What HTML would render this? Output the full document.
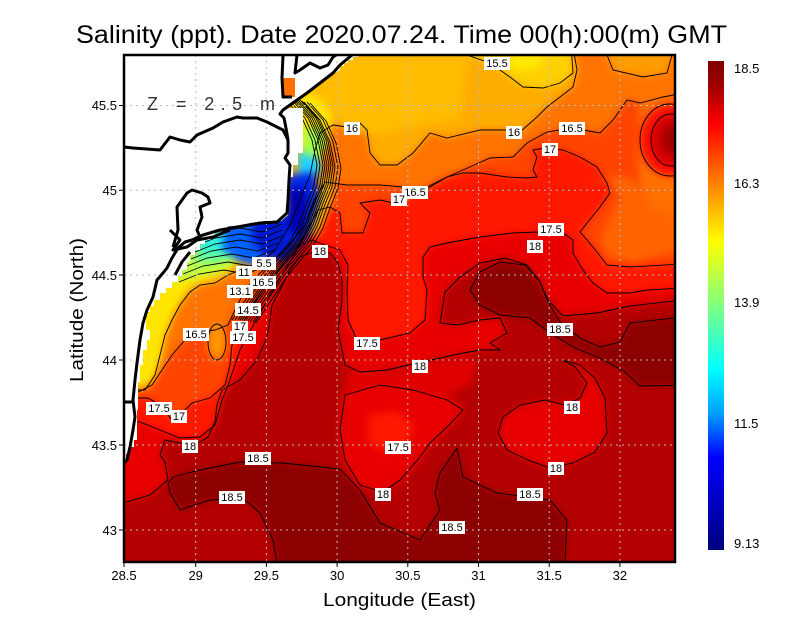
<!DOCTYPE html>
<html><head><meta charset="utf-8"><style>
html,body{margin:0;padding:0;background:#fff;width:800px;height:618px;overflow:hidden}
svg{display:block}
text{font-family:"Liberation Sans",sans-serif}
</style></head><body>
<svg width="800" height="618" viewBox="0 0 800 618" xmlns="http://www.w3.org/2000/svg">
<defs>
<clipPath id="plot"><rect x="124" y="55" width="551" height="507"/></clipPath>
<filter id="bl" filterUnits="userSpaceOnUse" x="0" y="0" width="800" height="618" color-interpolation-filters="sRGB"><feGaussianBlur stdDeviation="4"/></filter>
<linearGradient id="cb" x1="0" y1="0" x2="0" y2="1">
<stop offset="0" stop-color="#800000"/><stop offset="0.05" stop-color="#a00000"/><stop offset="0.13" stop-color="#ff0000"/><stop offset="0.25" stop-color="#ff8000"/><stop offset="0.37" stop-color="#ffff00"/><stop offset="0.5" stop-color="#80ff80"/><stop offset="0.63" stop-color="#00ffff"/><stop offset="0.72" stop-color="#00a0ff"/><stop offset="0.81" stop-color="#0000ff"/><stop offset="1" stop-color="#000080"/>
</linearGradient>
<path id="d1" d="M283,463 L340,469 L360,490 L380,523 L420,540 L440,510 L435,493 L440,473 L457,448 L463,477 L497,493 L550,500 L567,520 L563,600 L283,600 L273,540 L260,513 L243,498 L210,500 L180,510 L170,493 L168,483 L173,477 L200,470 L240,462 Z"/>
<path id="d23" d="M470,290 L480,272 L500,262 L525,265 L540,282 L547,300 L560,322 L580,338 L600,347 L620,342 L630,323 L700,315 L700,385 L640,386 L625,372 L600,358 L575,348 L550,333 L530,318 L500,315 L480,305 Z"/>
<path id="r18" d="M100,30 H700 V298 L630,306 L597,313 L563,316 L548,300 L540,282 L527,265 L505,258 L480,263 L460,277 L445,292 L440,323 L457,325 L480,320 L500,318 L507,333 L490,343 L500,350 L480,350 L463,353 L417,363 L387,370 L360,372 L345,365 L338,330 L342,300 L342,280 L338,263 L330,253 L313,252 L300,257 L290,270 L280,290 L272,305 L270,320 L267,337 L257,360 L240,380 L222,390 L217,405 L215,422 L208,437 L195,445 L180,443 L165,440 L160,455 L165,462 L168,480 L150,495 L100,510 Z"/>
<path id="r18b" d="M345,395 L380,385 L413,390 L447,400 L463,410 L447,427 L430,443 L420,457 L400,480 L383,492 L360,485 L345,460 L340,430 Z"/>
<path id="r18c" d="M498,433 L503,417 L520,405 L545,400 L565,405 L580,398 L587,383 L575,367 L562,360 L580,365 L595,378 L605,398 L607,433 L595,452 L573,463 L550,468 L528,460 L507,450 Z"/>
<path id="r175" d="M100,30 H700 V287 L647,290 L630,293 L607,293 L593,283 L583,270 L573,253 L573,240 L563,233 L537,232 L513,233 L480,237 L447,243 L430,247 L423,257 L423,277 L427,290 L425,320 L410,333 L380,340 L357,340 L348,320 L347,290 L348,265 L340,250 L325,245 L312,240 L300,245 L290,262 L280,278 L270,295 L262,310 L255,322 L248,335 L240,350 L235,365 L228,385 L222,400 L215,425 L200,437 L180,438 L160,430 L140,422 L100,420 Z"/>
<path id="r17" d="M100,30 H700 V263 L630,267 L607,265 L597,252 L587,240 L580,232 L587,223 L600,207 L610,193 L607,183 L597,167 L580,157 L563,150 L545,148 L533,150 L537,157 L533,170 L537,177 L527,178 L507,177 L480,173 L463,173 L447,177 L430,187 L413,197 L393,203 L380,200 L360,203 L370,213 L363,233 L342,233 L340,213 L330,207 L318,210 L305,235 L295,250 L285,262 L275,275 L262,290 L250,310 L240,328 L232,345 L230,365 L225,385 L210,398 L192,403 L180,415 L172,420 L160,405 L148,398 L100,398 Z"/>
<path id="r165" d="M100,30 H700 V90 L663,97 L640,103 L627,100 L613,120 L600,133 L583,130 L572,128 L547,132 L527,143 L513,157 L490,158 L463,170 L447,177 L427,187 L415,192 L403,187 L380,185 L347,185 L325,182 L315,200 L305,225 L293,240 L285,250 L272,262 L258,275 L245,290 L235,310 L228,325 L215,330 L200,332 L185,340 L172,355 L162,370 L152,385 L138,392 L100,390 Z"/>
<path id="r16" d="M100,30 H570 L577,70 L573,87 L560,97 L547,107 L537,117 L520,132 L507,130 L480,130 L447,138 L430,133 L413,153 L397,165 L380,165 L370,153 L367,130 L360,123 L347,127 L333,125 L320,133 L315,150 L310,175 L300,200 L290,225 L275,250 L262,262 L245,268 L228,275 L215,283 L200,285 L190,292 L180,305 L172,320 L165,335 L160,355 L155,375 L145,390 L100,390 Z"/>
<path id="r155" d="M467,30 L467,55 L490,63 L510,77 L523,87 L543,88 L560,83 L573,73 L570,30 Z"/>
<path id="front" d="M300,100 L316,118 L326,140 L331,165 L328,185 L320,205 L313,225 L303,243 L290,258 L278,272 L266,290 L256,305 L246,320" fill="none"/>
<path id="bluec" d="M195,252 L215,244 L240,240 L262,244 L282,236" fill="none"/>
</defs>

<text x="76" y="43" font-size="25" textLength="651" lengthAdjust="spacingAndGlyphs">Salinity (ppt). Date 2020.07.24. Time 00(h):00(m) GMT</text>

<g clip-path="url(#plot)">
<rect x="100" y="30" width="600" height="560" fill="#b40000"/>
<g filter="url(#bl)">
<path fill="#8c0000" d="M283,463 L340,469 L360,490 L380,523 L420,540 L440,510 L435,493 L440,473 L457,448 L463,477 L497,493 L550,500 L567,520 L563,600 L283,600 L273,540 L260,513 L243,498 L210,500 L180,510 L170,493 L168,483 L173,477 L200,470 L240,462 Z"/>
<path fill="#8c0000" d="M470,290 L480,272 L500,262 L525,265 L540,282 L547,300 L560,322 L580,338 L600,347 L620,342 L630,323 L700,315 L700,385 L640,386 L625,372 L600,358 L575,348 L550,333 L530,318 L500,315 L480,305 Z"/>
<path fill="#e80000" d="M100,30 H700 V298 L630,306 L597,313 L563,316 L548,300 L540,282 L527,265 L505,258 L480,263 L460,277 L445,292 L440,323 L457,325 L480,320 L500,318 L507,333 L490,343 L500,350 L480,350 L463,353 L417,363 L387,370 L360,372 L345,365 L338,330 L342,300 L342,280 L338,263 L330,253 L313,252 L300,257 L290,270 L280,290 L272,305 L270,320 L267,337 L257,360 L240,380 L222,390 L217,405 L215,422 L208,437 L195,445 L180,443 L165,440 L160,455 L165,462 L168,480 L150,495 L100,510 Z"/>
<path fill="#e80000" d="M342,392 L380,382 L413,386 L447,396 L466,408 L450,428 L432,445 L420,460 L402,482 L383,493 L358,487 L343,462 L338,430 Z"/>
<path fill="#e80000" d="M498,433 L503,417 L520,405 L545,400 L565,405 L580,398 L587,383 L575,367 L562,360 L580,365 L595,378 L605,398 L607,433 L595,452 L573,463 L550,468 L528,460 L507,450 Z"/>
<path fill="#e00000" d="M345,372 L390,372 L420,366 L465,356 L478,362 L470,385 L450,395 L410,388 L380,382 L345,390 Z"/>
<path fill="#ff1800" d="M100,30 H700 V287 L647,290 L630,293 L607,293 L593,283 L583,270 L573,253 L573,240 L563,233 L537,232 L513,233 L480,237 L447,243 L430,247 L423,257 L423,277 L427,290 L425,320 L410,333 L380,340 L357,340 L348,320 L347,290 L348,265 L340,250 L325,245 L312,240 L300,245 L290,262 L280,278 L270,295 L262,310 L255,322 L248,335 L240,350 L235,365 L228,385 L222,400 L215,425 L200,437 L180,438 L160,430 L140,422 L100,420 Z"/>
<path fill="#ff1800" d="M368,416 L395,411 L414,424 L407,446 L385,452 L368,442 Z"/>
<path fill="#ff4400" d="M100,30 H700 V263 L630,267 L607,265 L597,252 L587,240 L580,232 L587,223 L600,207 L610,193 L607,183 L597,167 L580,157 L563,150 L545,148 L533,150 L537,157 L533,170 L537,177 L527,178 L507,177 L480,173 L463,173 L447,177 L430,187 L413,197 L393,203 L380,200 L360,203 L370,213 L363,233 L342,233 L340,213 L330,207 L318,210 L305,235 L295,250 L285,262 L275,275 L262,290 L250,310 L240,328 L232,345 L230,365 L225,385 L210,398 L192,403 L180,415 L172,420 L160,405 L148,398 L100,398 Z"/>
<path fill="#ff7400" d="M100,30 H700 V90 L663,97 L640,103 L627,100 L613,120 L600,133 L583,130 L572,128 L547,132 L527,143 L513,157 L490,158 L463,170 L447,177 L427,187 L415,192 L403,187 L380,185 L347,185 L325,182 L315,200 L305,225 L293,240 L285,250 L272,262 L258,275 L245,290 L235,310 L228,325 L215,330 L200,332 L185,340 L172,355 L162,370 L152,385 L138,392 L100,390 Z"/>
<path d="M640,97 L637,150 L640,183 L650,207 L700,222 V97 Z" fill="#ff7000"/>
<path d="M585,185 L605,178 L620,195 L612,215 L600,238 L608,256 L632,262 L660,255 L700,245 L700,222 L650,207 L638,185 L625,175 Z" fill="#ff6400"/>
<path fill="#ffac00" d="M100,30 H570 L577,70 L573,87 L560,97 L547,107 L537,117 L520,132 L507,130 L480,130 L447,138 L430,133 L413,153 L397,165 L380,165 L370,153 L367,130 L360,123 L347,127 L333,125 L320,133 L315,150 L310,175 L300,200 L290,225 L275,250 L262,262 L245,268 L228,275 L215,283 L200,285 L190,292 L180,305 L172,320 L165,335 L160,355 L155,375 L145,390 L100,390 Z"/>
<path d="M607,30 L607,55 L613,70 L643,77 L667,73 L672,55 L672,30 Z" fill="#ff9c00"/>
<ellipse cx="217" cy="342" rx="9" ry="18" fill="#ff9800"/>
<path d="M300,55 L300,110 L330,110 L345,130 L380,135 L420,125 L460,120 L467,55 Z" fill="#ffbc00"/>
<path fill="#ffd000" d="M467,30 L467,55 L490,63 L510,77 L523,87 L543,88 L560,83 L573,73 L570,30 Z"/>
<ellipse cx="525" cy="62" rx="18" ry="8" fill="#ffea00"/>
<path d="M290,100 L310,92 L322,100 L332,115 L330,135 L325,150 L320,165 L300,175 L295,120 Z" fill="#ffe600"/>
<path d="M215,258 L235,265 L225,275 L210,280 L198,283 L188,290 L180,302 L172,318 L166,335 L162,355 L157,372 L150,385 L120,385 L120,268 Z" fill="#ffe600"/>
<path d="M190,252 L228,252 L238,262 L220,272 L200,276 L185,280 L120,280 L120,258 Z" fill="#c0ff40"/>
<path d="M195,240 L232,240 L238,255 L220,262 L195,262 Z" fill="#60ffa0"/>
<path d="M200,228 L238,226 L244,245 L225,252 L200,250 Z" fill="#30f0e0"/>
<path d="M225,224 L265,222 L272,250 L262,266 L240,262 L222,250 Z" fill="#0060ff"/>
<path d="M252,218 L292,214 L305,225 L300,245 L285,262 L265,258 L252,240 Z" fill="#0018d0"/>
<path d="M298,150 L316,150 L322,168 L316,180 L298,180 Z" fill="#20d0ff"/>
<path d="M304,128 L320,128 L326,148 L318,156 L304,156 Z" fill="#a0ff50"/>
<path d="M286,175 L314,172 L320,195 L316,220 L306,240 L286,240 Z" fill="#0028e8"/>
<path d="M288,188 L306,188 L308,225 L296,236 L288,230 Z" fill="#0000b0"/>
<path d="M322,175 L334,178 L332,200 L325,220 L316,238 L310,232 L318,205 Z" fill="#ffc000"/>
<ellipse cx="670" cy="140" rx="30" ry="36" fill="#ff1000"/>
<ellipse cx="671" cy="140" rx="20" ry="26" fill="#d40000"/>
<ellipse cx="672" cy="139" rx="10" ry="15" fill="#a00000"/>
</g>
<path fill="#ff1800" d="M347,248 L426,248 L421,257 L421,277 L425,290 L423,318 L409,331 L380,338 L358,338 L350,320 L349,290 L350,265 Z"/>
<g fill="none" stroke="#000" stroke-width="0.9">
<use href="#d1"/><use href="#d23"/><use href="#r18"/><use href="#r18b"/><use href="#r18c"/>
<use href="#r175"/><use href="#r17"/><use href="#r165"/><use href="#r16"/><use href="#r155"/>
<ellipse cx="217" cy="342" rx="9" ry="18"/>
<ellipse cx="670" cy="140" rx="30" ry="36"/><ellipse cx="671" cy="140" rx="20" ry="26"/>
<path d="M607,55 L613,70 L643,77 L667,73 L672,55"/>
<use href="#front" transform="translate(-14,0)"/><use href="#front" transform="translate(-11,0)"/>
<use href="#front" transform="translate(-8,0)"/><use href="#front" transform="translate(-6,0)"/>
<use href="#front" transform="translate(-4,0)"/><use href="#front" transform="translate(-2,0)"/>
<use href="#front"/><use href="#front" transform="translate(2,1)"/>
<use href="#front" transform="translate(4,2)"/><use href="#front" transform="translate(7,2)"/>
<use href="#front" transform="translate(10,3)"/>
<use href="#bluec" transform="translate(0,-12)"/><use href="#bluec" transform="translate(0,-6)"/>
<use href="#bluec"/><use href="#bluec" transform="translate(-4,7)"/>
<use href="#bluec" transform="translate(-8,14)"/><use href="#bluec" transform="translate(-12,22)"/>
<use href="#bluec" transform="translate(-16,30)"/>
</g>
<path fill="#fff" d="M124,55 L358,55 L358,57 L353,57 L353,60 L348,60 L348,63 L344,63 L344,66 L340,66 L340,70 L337,72 L333,73 L320,83 L307,93 L293,103 L284,110 L290,108 L303,108 L303,153 L298,153 L298,165 L293,165 L293,177 L288,177 L288,187 L289,200 L288,215 L281,221 L265,221 L250,223 L238,226 L228,226 L228,229 L220,229 L220,232 L215,232 L215,236 L210,236 L210,240 L205,240 L205,244 L200,244 L200,250 L195,250 L195,255 L190,255 L190,262 L187,262 L187,270 L182,270 L182,276 L178,276 L178,282 L172,282 L172,288 L166,288 L166,293 L160,293 L160,300 L154,300 L154,306 L150,306 L150,312 L146,312 L146,330 L150,330 L150,340 L147,340 L147,350 L143,350 L143,365 L140,365 L140,382 L138,382 L138,410 L137,410 L137,440 L134,440 L134,447 L130,447 L130,454 L126,454 L126,462 L124,462 Z"/>
<rect x="283" y="78" width="12" height="19" fill="#ff7000"/>
<g stroke="#bdbdbd" stroke-width="1" stroke-dasharray="2,4" fill="none">
<path d="M195.7,55V562M266.4,55V562M337.1,55V562M407.8,55V562M478.5,55V562M549.2,55V562M619.9,55V562"/>
<path d="M124,105.5H675M124,190.3H675M124,275H675M124,360H675M124,445H675M124,530H675"/>
</g>
<g fill="none" stroke="#000" stroke-width="3" stroke-linejoin="round">
<path d="M124,147 L133,148 L160,150 L170,137 L180,140 L190,142 L197,135 L213,128 L223,122 L237,117 L243,118 L257,118 L267,122 L283,130 L288,140"/>
<path d="M352,55 L340,65 L333,73 L320,83 L307,93 L297,100 L290,105 L283,110 L280,114 L284,118 L286,128 L288,140 L288,153 L285,158 L290,165 L289,180 L288,200 L287,213 L277,222 L260,223 L237,227 L220,230 L203,235 L192,240"/>
<path d="M192,240 L185,242 L178,248 L172,258 L167,268 L163,273 L157,280 L153,297 L147,310 L143,323 L140,340 L137,363 L135,380 L133,400 L135,417 L133,430 L130,447 L127,460 L124,463"/>
<path d="M124,402 L133,402"/>
<path d="M173,247 L178,230 L177,207 L187,193 L192,190 L202,193 L208,197 L210,203 L200,207 L202,217 L197,230 L200,237"/>
<path d="M170,230 L180,240 L173,250 L187,247 L197,240 L213,237 L230,230"/>
<path d="M175,275 L182,262 L190,252"/>
<path d="M283,55 L282,78 L283,97 L292,97"/>
<path d="M297,55 L295,73 L300,70 L310,63 L320,68 L328,65 L333,57 L336,55"/>
</g>
<text x="147" y="110" font-size="18" fill="#333" textLength="128" lengthAdjust="spacing">Z = 2.5 m</text>
<g font-size="11" text-anchor="middle">
<rect x="252" y="257" width="24" height="13" fill="#fff"/><text x="264" y="267">5.5</text>
<rect x="236" y="266" width="16" height="13" fill="#fff"/><text x="244" y="276">11</text>
<rect x="250" y="276" width="26" height="13" fill="#fff"/><text x="263" y="286">16.5</text>
<rect x="227" y="285" width="26" height="13" fill="#fff"/><text x="240" y="295">13.1</text>
<rect x="235" y="303" width="26" height="13" fill="#fff"/><text x="248" y="314">14.5</text>
</g>
<g font-size="11" text-anchor="middle">
<rect x="484" y="57" width="26" height="13" fill="#fff"/><text x="497" y="67">15.5</text>
<rect x="344" y="122" width="16" height="13" fill="#fff"/><text x="352" y="132">16</text>
<rect x="506" y="126" width="16" height="13" fill="#fff"/><text x="514" y="136">16</text>
<rect x="559" y="122" width="26" height="13" fill="#fff"/><text x="572" y="132">16.5</text>
<rect x="542" y="143" width="16" height="13" fill="#fff"/><text x="550" y="153">17</text>
<rect x="402" y="186" width="26" height="13" fill="#fff"/><text x="415" y="196">16.5</text>
<rect x="391" y="193" width="16" height="13" fill="#fff"/><text x="399" y="203">17</text>
<rect x="538" y="223" width="26" height="13" fill="#fff"/><text x="551" y="233">17.5</text>
<rect x="527" y="240" width="16" height="13" fill="#fff"/><text x="535" y="250">18</text>
<rect x="312" y="245" width="16" height="13" fill="#fff"/><text x="320" y="255">18</text>
<rect x="354" y="337" width="26" height="13" fill="#fff"/><text x="367" y="347">17.5</text>
<rect x="412" y="360" width="16" height="13" fill="#fff"/><text x="420" y="370">18</text>
<rect x="547" y="323" width="26" height="13" fill="#fff"/><text x="560" y="333">18.5</text>
<rect x="564" y="401" width="16" height="13" fill="#fff"/><text x="572" y="411">18</text>
<rect x="385" y="441" width="26" height="13" fill="#fff"/><text x="398" y="451">17.5</text>
<rect x="548" y="462" width="16" height="13" fill="#fff"/><text x="556" y="472">18</text>
<rect x="245" y="452" width="26" height="13" fill="#fff"/><text x="258" y="462">18.5</text>
<rect x="219" y="491" width="26" height="13" fill="#fff"/><text x="232" y="501">18.5</text>
<rect x="375" y="488" width="16" height="13" fill="#fff"/><text x="383" y="498">18</text>
<rect x="517" y="488" width="26" height="13" fill="#fff"/><text x="530" y="498">18.5</text>
<rect x="439" y="521" width="26" height="13" fill="#fff"/><text x="452" y="531">18.5</text>
<rect x="183" y="328" width="26" height="13" fill="#fff"/><text x="196" y="338">16.5</text>
<rect x="232" y="321" width="16" height="10" fill="#fff"/><text x="240" y="330">17</text>
<rect x="230" y="331" width="26" height="13" fill="#fff"/><text x="243" y="341">17.5</text>
<rect x="146" y="402" width="26" height="13" fill="#fff"/><text x="159" y="412">17.5</text>
<rect x="171" y="410" width="16" height="13" fill="#fff"/><text x="179" y="420">17</text>
<rect x="182" y="440" width="16" height="13" fill="#fff"/><text x="190" y="450">18</text>
</g>
</g>
<rect x="124" y="55" width="551" height="507" fill="none" stroke="#000" stroke-width="2.5"/>
<g stroke="#000" stroke-width="1">
<path d="M124,562v5M195.7,562v5M266.4,562v5M337.1,562v5M407.8,562v5M478.5,562v5M549.2,562v5M619.9,562v5"/>
<path d="M119,105.5h5M119,190.3h5M119,275h5M119,360h5M119,445h5M119,530h5"/>
</g>
<g font-size="13" text-anchor="middle">
<text x="124" y="580">28.5</text><text x="195.7" y="580">29</text><text x="266.4" y="580">29.5</text><text x="337.1" y="580">30</text><text x="407.8" y="580">30.5</text><text x="478.5" y="580">31</text><text x="549.2" y="580">31.5</text><text x="619.9" y="580">32</text>
</g>
<g font-size="13" text-anchor="end">
<text x="117" y="110">45.5</text><text x="117" y="195">45</text><text x="117" y="280">44.5</text><text x="117" y="365">44</text><text x="117" y="450">43.5</text><text x="117" y="535">43</text>
</g>
<text x="323" y="606" font-size="18" textLength="153" lengthAdjust="spacingAndGlyphs">Longitude (East)</text>
<text transform="translate(83,382) rotate(-90)" font-size="18" textLength="144" lengthAdjust="spacingAndGlyphs">Latitude (North)</text>
<rect x="708" y="61" width="16" height="489" fill="url(#cb)"/>
<g font-size="13">
<text x="734" y="73">18.5</text><text x="734" y="188">16.3</text><text x="734" y="307">13.9</text><text x="734" y="428">11.5</text><text x="734" y="548">9.13</text>
</g>
</svg>
</body></html>
